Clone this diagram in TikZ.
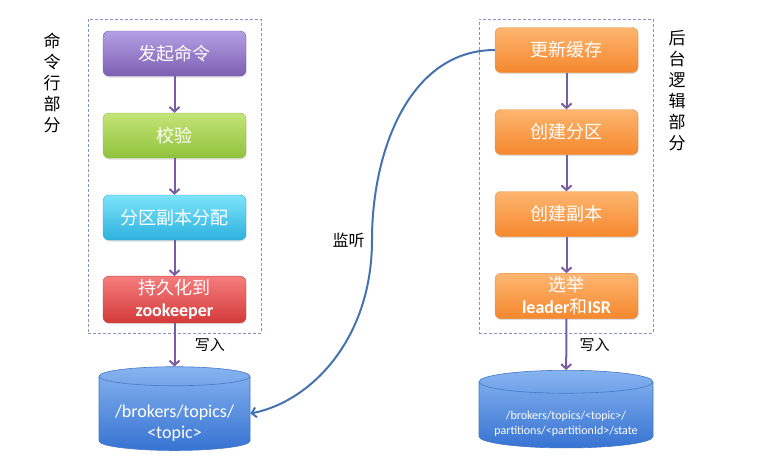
\documentclass[tikz,border=0pt]{standalone}
\usepackage{fontspec}
\setmainfont{Carlito}
\newfontfamily\cjk{Noto Sans CJK SC}
\usepackage{tikz}
\usetikzlibrary{shapes.geometric, arrows.meta, shadows}

\definecolor{panelblue}{RGB}{130,150,195}
\definecolor{flowpurple}{RGB}{120,94,160}
\definecolor{listenblue}{RGB}{70,115,175}
\definecolor{storeedge}{RGB}{70,120,200}

\tikzstyle{stage} = [rectangle, rounded corners=6pt, minimum width=143pt, minimum height=45pt, text centered, align=center, text=white, font=\cjk\fontsize{18}{22}\selectfont, drop shadow={opacity=0.25, shadow xshift=0.5pt, shadow yshift=-1.5pt}]
\tikzstyle{panel} = [rectangle, draw=panelblue, line width=0.9pt, dash pattern=on 3pt off 2pt, minimum width=173pt, minimum height=314pt]
\tikzstyle{side} = [align=center, font=\cjk\fontsize{17}{21}\selectfont]
\tikzstyle{store} = [cylinder, shape border rotate=90, aspect=0.16, draw=storeedge, line width=0.6pt, top color={rgb,255:red,135;green,180;blue,240}, bottom color={rgb,255:red,55;green,115;blue,210}, text=white, align=center, inner sep=0pt]
\tikzstyle{arrow} = [line width=2pt, draw=flowpurple, -{Straight Barb[length=4.5pt, width=10pt]}]
\tikzstyle{listen} = [line width=2pt, draw=listenblue, -{Straight Barb[length=4.5pt, width=10pt]}]

\begin{document}
\begin{tikzpicture}[x=1pt, y=-1pt, node distance=82pt]
\useasboundingbox (0,0) rectangle (758,467);

% Panels
\node (cmdpanel) [panel] at (174.5,176) {};
\node (bgpanel) [panel, minimum width=174pt] at (566,176) {};
\node (cmdlabel) [side] at (52,82.5) {命\\令\\行\\部\\分};
\node (bglabel) [side] at (677,90.5) {后\\台\\逻\\辑\\部\\分};

% Command line side
\node (launch) [stage, top color={rgb,255:red,180;green,160;blue,228}, bottom color={rgb,255:red,125;green,95;blue,178}, draw={rgb,255:red,115;green,90;blue,165}] at (174.5,53.5) {发起命令};
\node (verify) [stage, below of=launch, top color={rgb,255:red,196;green,228;blue,120}, bottom color={rgb,255:red,145;green,195;blue,60}, draw={rgb,255:red,140;green,185;blue,70}] {校验};
\node (assign) [stage, below of=verify, top color={rgb,255:red,125;green,228;blue,250}, bottom color={rgb,255:red,45;green,178;blue,222}, draw={rgb,255:red,50;green,170;blue,210}] {分区副本分配};
\node (persist) [stage, below of=assign, top color={rgb,255:red,246;green,125;blue,125}, bottom color={rgb,255:red,212;green,58;blue,58}, draw={rgb,255:red,200;green,70;blue,70}] {持久化到\\{\rmfamily\bfseries zookeeper}};

% Background side
\node (cache) [stage, top color={rgb,255:red,253;green,182;blue,112}, bottom color={rgb,255:red,245;green,135;blue,45}, draw={rgb,255:red,235;green,140;blue,60}] at (566.5,50) {更新缓存};
\node (mkpart) [stage, below of=cache, top color={rgb,255:red,253;green,182;blue,112}, bottom color={rgb,255:red,245;green,135;blue,45}, draw={rgb,255:red,235;green,140;blue,60}] {创建分区};
\node (mkrep) [stage, below of=mkpart, top color={rgb,255:red,253;green,182;blue,112}, bottom color={rgb,255:red,245;green,135;blue,45}, draw={rgb,255:red,235;green,140;blue,60}] {创建副本};
\node (elect) [stage, below of=mkrep, top color={rgb,255:red,253;green,182;blue,112}, bottom color={rgb,255:red,245;green,135;blue,45}, draw={rgb,255:red,235;green,140;blue,60}] {选举\\{\rmfamily\bfseries leader}和{\rmfamily\bfseries ISR}};

% Stores
\node (topicstore) [store, minimum width=151pt, minimum height=73pt, font=\fontsize{18}{21}\selectfont] at (174.5,413.5) {\rule{0pt}{31pt}/brokers/topics/\\<topic>};
\node (statestore) [store, minimum width=174pt, minimum height=74pt, font=\fontsize{12}{15}\selectfont] at (566,415) {\rule{0pt}{26pt}/brokers/topics/<topic>/\\partitions/<partitionId>/state};

% Arrows
\draw [arrow] (launch) -- (verify);
\draw [arrow] (verify) -- (assign);
\draw [arrow] (assign) -- (persist);
\draw [arrow] (persist) -- node[right=16pt, font=\cjk\fontsize{15}{18}\selectfont] {写入} (topicstore);

\draw [arrow] (cache) -- (mkpart);
\draw [arrow] (mkpart) -- (mkrep);
\draw [arrow] (mkrep) -- (elect);
\draw [arrow] (elect) -- node[right=9pt, font=\cjk\fontsize{15}{18}\selectfont] {写入} (statestore);

\draw [listen] (cache.west) .. controls (410,50) and (372,150) .. (372,240) node[left=3pt, font=\cjk\fontsize{16}{19}\selectfont] {监听} .. controls (372,340) and (310,402) .. (topicstore.east);

\end{tikzpicture}
\end{document}
